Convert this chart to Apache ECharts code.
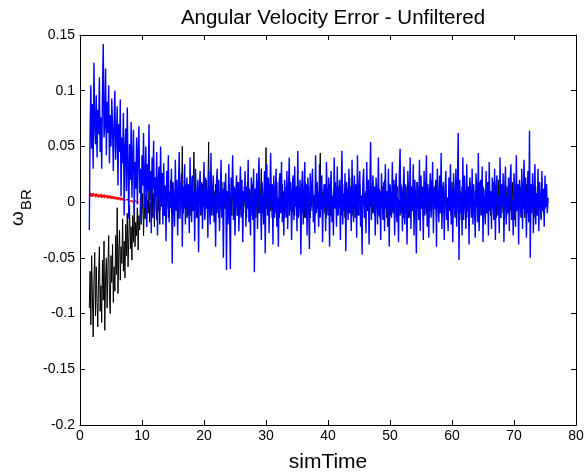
<!DOCTYPE html>
<html>
<head>
<meta charset="utf-8">
<script src="https://cdn.jsdelivr.net/npm/echarts@6/dist/echarts.min.js"></script>
<style>
  html, body { margin: 0; padding: 0; background: #fff; }
  #main { width: 584px; height: 473px; }
</style>
</head>
<body>
<div id="main"></div>
<script>
// sampling of the logged signals (start time, step)
var T0 = 1.5;
var DT = 0.125;

// axis ticks
var xTicks = [0, 10, 20, 30, 40, 50, 60, 70, 80];
var yTicks = [-0.2, -0.15, -0.1, -0.05, 0, 0.05, 0.1, 0.15];

// black component, one row = 2 s
var errX = [
    -0.095, -0.062, -0.110, -0.048, -0.085, -0.121, -0.070, -0.045, -0.102, -0.058, -0.090, -0.112, -0.066, -0.040, -0.098, -0.075,
    -0.108, -0.052, -0.088, -0.035, -0.115, -0.068, -0.050, -0.095, -0.060, -0.030, -0.085, -0.100, -0.048, -0.072, -0.038, -0.090,
    -0.058, -0.080, -0.030, -0.065, -0.005, -0.082, -0.045, -0.025, -0.070, -0.040, -0.055, -0.015, -0.062, -0.035, -0.068, -0.020,
    -0.048, -0.010, -0.058, -0.030, -0.003, -0.042, -0.022, -0.052, -0.012, -0.036, 0.000, -0.040, -0.018, -0.030, -0.005, -0.043,
    -0.012, -0.025, 0.004, -0.020, -0.008, 0.008, -0.030, -0.002, -0.015, 0.006, -0.022, 0.002, -0.010, 0.010, -0.018, 0.000,
    -0.006, 0.018, -0.014, 0.008, -0.022, 0.012, 0.002, -0.016, 0.020, -0.008, 0.004, -0.020, 0.014, -0.004, 0.026, -0.012,
    0.008, -0.012, 0.004, 0.014, -0.006, 0.010, -0.014, 0.004, 0.000, 0.020, -0.010, 0.006, -0.012, 0.008, 0.002, -0.006,
    0.012, -0.008, 0.004, -0.014, 0.010, 0.018, -0.004, 0.006, 0.050, -0.010, 0.002, 0.012, -0.006, 0.016, -0.014, 0.006,
    -0.002, 0.010, -0.012, 0.022, 0.004, -0.008, 0.014, 0.045, -0.006, 0.008, -0.014, 0.002, 0.012, -0.010, 0.018, 0.000,
    -0.012, 0.006, 0.016, -0.004, 0.010, -0.014, 0.004, 0.020, -0.006, 0.012, 0.054, -0.010, 0.002, 0.014, -0.008, 0.004,
    -0.012, 0.010, -0.002, 0.016, -0.010, 0.006, 0.012, -0.014, 0.002, 0.008, -0.006, 0.018, -0.012, 0.004, 0.010, -0.006,
    0.014, -0.008, 0.002, -0.014, 0.010, 0.016, -0.004, 0.006, -0.012, 0.020, 0.000, -0.010, 0.012, -0.002, 0.006, -0.012,
    0.008, 0.018, -0.006, 0.002, -0.012, 0.010, 0.004, -0.010, 0.014, -0.004, 0.006, -0.014, 0.018, 0.002, -0.008, 0.012,
    -0.006, 0.010, -0.012, 0.016, 0.002, -0.008, 0.012, -0.014, 0.006, 0.002, -0.010, 0.018, -0.004, 0.008, 0.030, -0.010,
    0.004, -0.012, 0.010, 0.000, 0.049, -0.006, 0.014, -0.012, 0.006, 0.016, -0.008, 0.002, -0.014, 0.010, 0.014, -0.004,
    0.008, -0.010, 0.018, -0.006, 0.002, -0.014, 0.012, 0.004, -0.008, 0.016, -0.002, 0.010, -0.014, 0.006, 0.014, -0.006,
    0.002, 0.010, -0.012, 0.016, -0.004, 0.008, -0.010, 0.022, 0.000, -0.012, 0.006, 0.014, -0.006, 0.010, -0.014, 0.004,
    0.012, -0.006, 0.016, -0.010, 0.002, 0.008, -0.014, 0.018, -0.002, 0.006, -0.010, 0.014, 0.002, -0.014, 0.010, -0.004,
    0.014, -0.008, 0.006, -0.012, 0.020, 0.000, -0.006, 0.010, -0.014, 0.008, 0.044, -0.006, 0.012, -0.010, 0.004, 0.016,
    -0.010, 0.006, -0.014, 0.012, 0.002, -0.006, 0.016, -0.012, 0.010, 0.002, -0.014, 0.012, -0.002, 0.008, 0.018, -0.008,
    0.004, -0.010, 0.014, -0.004, 0.010, -0.012, 0.006, 0.016, -0.008, 0.002, -0.014, 0.010, 0.000, 0.012, -0.010, 0.006,
    0.022, -0.006, 0.008, -0.012, 0.016, -0.002, 0.010, -0.014, 0.006, 0.012, -0.008, 0.002, -0.012, 0.016, -0.006, 0.006,
    -0.010, 0.012, -0.002, 0.008, -0.014, 0.010, 0.004, -0.008, 0.018, -0.012, 0.006, -0.004, 0.014, -0.010, 0.002, 0.012,
    -0.012, 0.006, -0.006, 0.016, -0.010, 0.002, 0.012, -0.014, 0.008, -0.002, 0.014, -0.010, 0.006, 0.020, -0.006, 0.002,
    -0.014, 0.010, 0.004, -0.008, 0.014, -0.012, 0.006, 0.000, -0.010, 0.016, -0.004, 0.010, -0.014, 0.008, 0.014, -0.006,
    0.002, -0.012, 0.016, -0.006, 0.010, -0.014, 0.020, -0.002, 0.006, -0.010, 0.014, 0.002, -0.014, 0.010, -0.006, 0.006,
    0.014, -0.008, 0.004, -0.014, 0.012, 0.000, -0.010, 0.018, -0.004, 0.008, -0.012, 0.016, 0.002, -0.006, 0.010, -0.016,
    0.006, -0.004, 0.018, -0.010, 0.002, 0.012, -0.014, 0.006, -0.008, 0.020, -0.002, 0.010, -0.012, 0.014, -0.006, 0.004,
    -0.014, 0.010, 0.002, -0.010, 0.018, -0.004, 0.008, -0.012, 0.014, 0.000, -0.010, 0.006, 0.016, -0.008, 0.004, -0.014,
    0.012, -0.002, 0.008, -0.012, 0.018, -0.006, 0.002, 0.010, -0.014, 0.006, -0.004, 0.014, -0.010, 0.002, -0.016, 0.010,
    -0.006, 0.014, 0.004, -0.010, 0.016, -0.006, 0.008, -0.014, 0.002, 0.012, -0.008, 0.018, -0.002, 0.006, -0.012, 0.010,
    0.002, -0.014, 0.010, -0.004, 0.014, 0.000, -0.010, 0.018, -0.012, 0.006, 0.010, -0.006, 0.014, -0.014, 0.004, -0.002,
    0.012, -0.010, 0.006, 0.016, -0.008, 0.002, -0.012, 0.010, -0.004, 0.018, -0.012, 0.006, 0.002, -0.014, 0.010, -0.006,
    0.020, -0.006, 0.008, -0.014, 0.014, 0.002, -0.010, 0.010, -0.014, 0.006, -0.002, 0.014, -0.010, 0.004, 0.012, -0.008,
    0.006, -0.012, 0.018, -0.004, 0.010, -0.016, 0.012, 0.002, -0.008, 0.016, -0.012, 0.006, -0.002, 0.014, -0.014, 0.008,
    -0.006, 0.010, -0.014, 0.004, 0.016, -0.010, 0.006, -0.012, 0.020, -0.004, 0.010, -0.010, 0.002, 0.012, -0.014, 0.006,
    0.014, -0.008, 0.004, -0.012, 0.016, -0.002, 0.008, -0.014, 0.010, 0.000, -0.010, 0.006, -0.006, 0.010, -0.004, 0.002,
    0.000
];

// red component (visible only at the start, hidden later)
var errY = [
    0.0065, 0.0085, 0.0050, 0.0078, 0.0048, 0.0082, 0.0055, 0.0075, 0.0042, 0.0080, 0.0050, 0.0072, 0.0040, 0.0068, 0.0045, 0.0074,
    0.0038, 0.0066, 0.0042, 0.0070, 0.0035, 0.0062, 0.0040, 0.0064, 0.0032, 0.0058, 0.0036, 0.0060, 0.0028, 0.0054, 0.0032, 0.0055,
    0.0025, 0.0050, 0.0028, 0.0048, 0.0020, 0.0045, 0.0024, 0.0042, 0.0016, 0.0040, 0.0018, 0.0036, 0.0012, 0.0034, 0.0014, 0.0030,
    0.0008, 0.0026, 0.0010, 0.0024, 0.0004, 0.0020, 0.0006, 0.0018, 0.0000, 0.0015, 0.0002, 0.0012, -0.0004, 0.0010, -0.0002, 0.0008,
    0.0000
];

// blue component, one row = 2 s
var errZ = [
    -0.025, 0.062, 0.105, 0.048, 0.088, 0.030, 0.125, 0.071, 0.052, 0.096, 0.040, 0.083, 0.061, 0.112, 0.045, 0.076,
    0.030, 0.098, 0.142, 0.058, 0.070, 0.120, 0.042, 0.090, 0.062, 0.105, 0.035, 0.078, 0.050, 0.093, 0.066, 0.028,
    0.072, 0.100, 0.038, 0.060, 0.086, 0.015, 0.070, 0.045, 0.092, 0.005, 0.058, 0.035, 0.080, -0.012, 0.048, 0.066,
    0.010, 0.085, 0.030, -0.015, 0.052, 0.020, 0.072, 0.004, 0.040, 0.065, -0.010, 0.036, 0.012, 0.058, -0.002, 0.045,
    0.068, 0.008, 0.030, -0.018, 0.042, 0.015, 0.062, -0.006, 0.025, 0.050, -0.022, 0.034, 0.010, 0.070, 0.002, 0.028,
    -0.028, 0.040, 0.012, 0.055, -0.015, 0.022, 0.005, 0.045, -0.030, 0.018, 0.032, -0.008, 0.050, 0.000, 0.026, -0.020,
    0.035, -0.012, 0.015, -0.035, 0.028, 0.006, 0.042, -0.018, 0.010, -0.005, 0.030, -0.055, 0.018, 0.002, -0.022, 0.038,
    -0.008, 0.020, -0.030, 0.012, 0.045, -0.015, 0.004, 0.026, -0.040, 0.014, -0.006, 0.034, -0.020, 0.008, 0.022, -0.012,
    0.016, -0.028, 0.040, 0.002, -0.018, 0.024, -0.008, 0.010, -0.035, 0.030, 0.006, -0.014, 0.020, -0.045, 0.012, 0.028,
    -0.010, 0.018, -0.024, 0.004, 0.036, -0.016, 0.022, -0.006, 0.012, -0.032, 0.028, 0.000, -0.020, 0.044, -0.012, 0.008,
    0.024, -0.018, 0.006, -0.040, 0.016, 0.030, -0.010, 0.020, -0.026, 0.002, 0.038, -0.014, 0.012, -0.050, 0.018, -0.004,
    0.026, -0.061, 0.010, -0.020, 0.034, -0.008, -0.060, 0.022, 0.004, 0.042, -0.016, 0.014, -0.030, 0.008, 0.024, -0.012,
    0.018, -0.026, 0.006, 0.032, -0.014, 0.020, -0.036, 0.010, 0.000, 0.028, -0.022, 0.014, -0.006, 0.038, -0.018, 0.004,
    -0.030, 0.022, 0.008, -0.016, 0.030, -0.063, 0.012, -0.004, 0.026, -0.024, 0.016, 0.040, -0.010, 0.006, -0.034, 0.018,
    0.002, -0.020, 0.028, -0.046, 0.014, 0.034, -0.012, 0.022, -0.028, 0.008, 0.044, -0.006, 0.016, -0.038, 0.024, -0.014,
    0.010, 0.030, -0.022, 0.004, -0.040, 0.018, 0.026, -0.010, 0.036, -0.018, 0.006, -0.030, 0.020, 0.002, -0.014, 0.028,
    -0.024, 0.012, 0.040, -0.008, 0.018, -0.034, 0.008, 0.024, -0.016, 0.032, -0.004, 0.014, -0.026, 0.046, -0.012, 0.006,
    0.020, -0.047, 0.010, 0.028, -0.020, 0.004, 0.036, -0.014, 0.016, -0.030, 0.022, 0.002, -0.042, 0.026, -0.008, 0.014,
    0.030, -0.018, 0.006, -0.028, 0.042, -0.010, 0.018, 0.000, -0.022, 0.034, -0.014, 0.012, 0.024, -0.036, 0.008, -0.004,
    0.016, -0.026, 0.036, 0.004, -0.012, 0.022, -0.040, 0.010, 0.028, -0.018, 0.006, -0.030, 0.040, -0.006, 0.014, -0.022,
    0.032, -0.012, 0.004, 0.020, -0.034, 0.012, 0.046, -0.020, 0.008, -0.008, 0.026, -0.044, 0.018, 0.002, -0.016, 0.030,
    -0.010, 0.014, -0.026, 0.038, 0.000, -0.018, 0.024, -0.006, 0.016, -0.032, 0.042, -0.012, 0.010, 0.028, -0.022, 0.004,
    -0.047, 0.018, 0.030, -0.014, 0.008, -0.028, 0.036, -0.004, 0.020, -0.038, 0.012, 0.054, -0.016, 0.006, 0.024, -0.010,
    0.014, -0.030, 0.022, 0.002, -0.020, 0.040, -0.012, 0.010, -0.034, 0.026, 0.004, -0.016, 0.018, -0.026, 0.034, -0.006,
    0.010, -0.022, 0.030, -0.040, 0.016, 0.002, -0.014, 0.036, -0.008, 0.020, -0.030, 0.012, 0.026, -0.018, 0.004, -0.036,
    0.024, 0.048, -0.010, 0.014, -0.026, 0.008, 0.032, -0.020, 0.016, -0.004, -0.038, 0.028, 0.006, -0.014, 0.040, -0.024,
    0.012, -0.008, 0.034, -0.030, 0.020, 0.000, -0.046, 0.018, 0.010, -0.016, 0.038, -0.026, 0.024, -0.006, 0.014, -0.034,
    0.028, -0.012, 0.006, 0.042, -0.022, 0.016, -0.032, 0.008, 0.026, -0.014, 0.002, 0.036, -0.028, 0.012, -0.006, 0.020,
    -0.040, 0.030, 0.004, -0.018, 0.024, -0.010, 0.044, -0.024, 0.010, 0.018, -0.034, 0.006, 0.028, -0.016, 0.000, -0.026,
    0.022, -0.008, 0.034, -0.020, 0.012, -0.036, 0.026, 0.004, -0.012, 0.030, -0.022, 0.016, 0.062, -0.052, 0.020, -0.010,
    0.008, -0.030, 0.040, -0.016, 0.024, 0.002, -0.024, 0.034, -0.008, 0.014, -0.038, 0.022, 0.006, -0.014, 0.030, -0.020,
    0.016, -0.004, -0.032, 0.026, 0.010, -0.018, 0.044, -0.026, 0.004, 0.020, -0.012, 0.032, -0.036, 0.012, 0.000, -0.020,
    0.028, -0.010, 0.018, -0.030, 0.036, -0.006, 0.010, -0.024, 0.022, 0.002, -0.016, 0.030, -0.034, 0.014, 0.024, -0.012,
    0.006, -0.028, 0.040, -0.014, 0.016, -0.004, 0.026, -0.036, 0.012, 0.032, -0.020, 0.004, -0.010, 0.022, -0.026, 0.018,
    0.034, -0.016, 0.002, -0.030, 0.026, 0.010, -0.022, 0.042, -0.008, 0.016, -0.038, 0.020, 0.006, -0.014, 0.030, -0.024,
    0.012, 0.038, -0.010, 0.022, -0.032, 0.004, 0.028, -0.018, 0.064, -0.050, 0.016, -0.006, 0.026, -0.028, 0.010, 0.034,
    -0.020, 0.008, -0.012, 0.030, -0.026, 0.018, 0.002, -0.016, 0.028, -0.008, 0.012, -0.022, 0.024, -0.004, 0.016, -0.010,
    0.004
];

function toPairs(vals) {
    var out = [];
    for (var i = 0; i < vals.length; i++) {
        out.push([T0 + i * DT, vals[i]]);
    }
    return out;
}

var myChart = echarts.init(document.getElementById('main'));

var fontFamily = '"Liberation Sans", Arial, sans-serif';

function lineSeries(name, color, width, vals) {
    return {
        name: name,
        type: 'line',
        showSymbol: false,
        symbol: 'none',
        lineStyle: { color: color, width: width },
        itemStyle: { color: color },
        emphasis: { disabled: true },
        data: toPairs(vals)
    };
}

var tickStyle = { inside: true, length: 5, lineStyle: { color: '#000', width: 1 } };
var axisLine = { show: true, onZero: false, lineStyle: { color: '#000', width: 1 } };

var option = {
    animation: false,
    backgroundColor: '#fff',
    title: {
        text: 'Angular Velocity Error - Unfiltered',
        left: 328,
        top: 3,
        textAlign: 'center',
        textStyle: { fontFamily: fontFamily, fontSize: 20.5, fontWeight: 'normal', color: '#000' }
    },
    grid: { left: 80, right: 8, top: 35, bottom: 48, outerBoundsMode: 'none', containLabel: false },
    xAxis: [
        {
            type: 'value',
            min: xTicks[0],
            max: xTicks[xTicks.length - 1],
            interval: 10,
            name: 'simTime',
            nameLocation: 'middle',
            nameGap: 27,
            nameTextStyle: { fontFamily: fontFamily, fontSize: 21, color: '#000' },
            axisLine: axisLine,
            axisTick: tickStyle,
            splitLine: { show: false },
            axisLabel: { fontFamily: fontFamily, fontSize: 14, color: '#000', margin: 4 }
        },
        {
            type: 'value',
            position: 'top',
            min: xTicks[0],
            max: xTicks[xTicks.length - 1],
            interval: 10,
            axisLine: axisLine,
            axisTick: tickStyle,
            splitLine: { show: false },
            axisLabel: { show: false }
        }
    ],
    yAxis: [
        {
            type: 'value',
            min: yTicks[0],
            max: yTicks[yTicks.length - 1],
            interval: 0.05,
            axisLine: axisLine,
            axisTick: tickStyle,
            splitLine: { show: false },
            axisLabel: {
                fontFamily: fontFamily, fontSize: 14, color: '#000', margin: 5,
                formatter: function (v) { return String(Math.round(v * 100) / 100); }
            }
        },
        {
            type: 'value',
            position: 'right',
            min: yTicks[0],
            max: yTicks[yTicks.length - 1],
            interval: 0.05,
            axisLine: axisLine,
            axisTick: tickStyle,
            splitLine: { show: false },
            axisLabel: { show: false }
        }
    ],
    graphic: [
        {
            type: 'text',
            x: 8, y: 226,
            rotation: Math.PI / 2,
            style: { text: 'ω', font: '19px ' + fontFamily, fill: '#000' }
        },
        {
            type: 'text',
            x: 19, y: 210,
            rotation: Math.PI / 2,
            style: { text: 'BR', font: '15px ' + fontFamily, fill: '#000' }
        }
    ],
    series: [
        lineSeries('x', '#000000', 1, errX),
        lineSeries('y', '#ff0000', 1.2, errY),
        lineSeries('z', '#0000ff', 1.4, errZ)
    ]
};
myChart.setOption(option);
</script>
</body>
</html>
